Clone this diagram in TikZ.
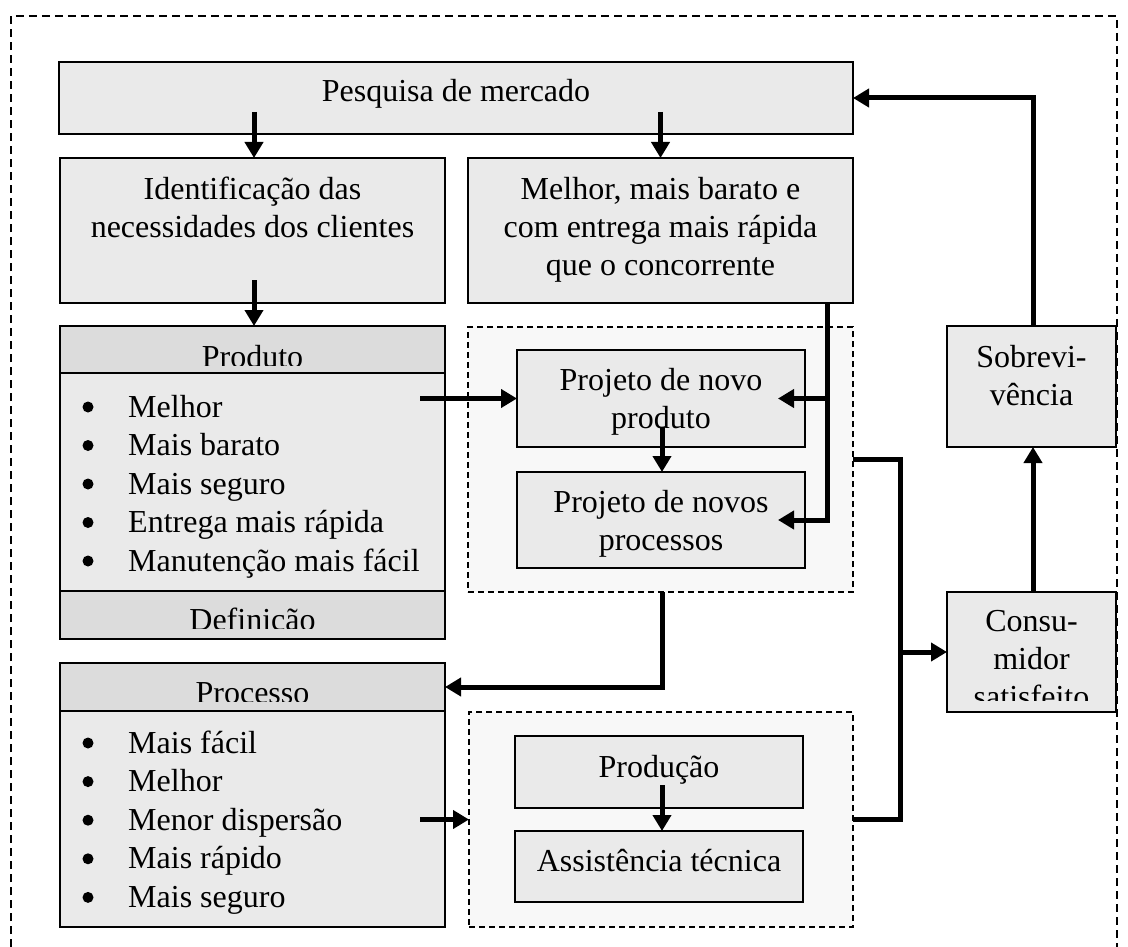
\documentclass[tikz,border=0pt]{standalone}
\usepackage{fontspec}
\setmainfont{Liberation Serif}
\usetikzlibrary{arrows.meta,calc}
\definecolor{boxgray}{HTML}{EAEAEA}
\definecolor{headgray}{HTML}{DCDCDC}
\definecolor{grpgray}{HTML}{F8F8F8}
\begin{document}
\begin{tikzpicture}[x=1pt,y=-1pt,
  box/.style={draw, line width=1.5pt, fill=boxgray, inner sep=0pt, outer sep=0pt},
  hbox/.style={box, fill=headgray},
  grp/.style={draw, dash pattern=on 6pt off 4pt, line width=1.4pt, fill=grpgray, inner sep=0pt, outer sep=0pt},
  txt/.style={font=\fontsize{32}{38}\selectfont, inner sep=0pt, align=center},
  bul/.style={circle, fill=black, inner sep=0pt, minimum size=11pt},
  link/.style={line width=5pt},
  arr/.style={line width=5pt, -{Triangle[length=16pt,width=18pt]}},
]
\useasboundingbox (0,0) rectangle (1128,947);
\fill[white] (0,0) rectangle (1128,947);
\draw[dash pattern=on 8pt off 5pt, line width=1.5pt] (11,947) -- (11,16) -- (1117,16) -- (1117,947);

% groups
\node[grp, minimum width=385pt, minimum height=265pt] (g1) at (660.5,459.5) {};
\node[grp, minimum width=384pt, minimum height=215pt] (g2) at (661,819.5) {};

% boxes
\node[box, minimum width=794pt, minimum height=72pt] (pesq) at (456,98) {};
\node[box, minimum width=385pt, minimum height=145pt] (ident) at (252.5,230.5) {};
\node[box, minimum width=385pt, minimum height=145pt] (melh) at (660.5,230.5) {};
\node[hbox, minimum width=385pt, minimum height=47pt] (phead) at (252.5,349.5) {};
\node[box, minimum width=385pt, minimum height=218pt] (plist) at (252.5,482) {};
\node[hbox, minimum width=385pt, minimum height=48pt] (pfoot) at (252.5,615) {};
\node[hbox, minimum width=385pt, minimum height=48pt] (rhead) at (252.5,687) {};
\node[box, minimum width=385pt, minimum height=216pt] (rlist) at (252.5,819) {};
\node[box, minimum width=288pt, minimum height=97pt] (prod) at (661,398.5) {};
\node[box, minimum width=288pt, minimum height=96pt] (proc) at (661,520) {};
\node[box, minimum width=288pt, minimum height=72pt] (prdc) at (659,772) {};
\node[box, minimum width=288pt, minimum height=71pt] (asst) at (659,866.5) {};
\node[box, minimum width=169pt, minimum height=121pt] (sob) at (1031.5,386.5) {};
\node[box, minimum width=169pt, minimum height=120pt] (cons) at (1031.5,652) {};

% texts
\node[txt, anchor=base] (tpesq) at (456,102) {Pesquisa de mercado};
\node[txt, anchor=north] (tident) at (252.5,177) {Identificação das\\necessidades dos clientes};
\node[txt, anchor=north] (tmelh) at (660.5,177) {Melhor, mais barato e\\com entrega mais rápida\\que o concorrente};
\node[txt, anchor=north] (tprod) at (661,368) {Projeto de novo\\produto};
\node[txt, anchor=north] (tproc) at (661,490) {Projeto de novos\\processos};
\node[txt, anchor=base] (tprdc) at (659,777) {Produção};
\node[txt, anchor=base] (tasst) at (659,871) {Assistência técnica};
\node[txt, anchor=north] (tsob) at (1031.5,345) {Sobrevi-\\vência};
\begin{scope}
  \clip (947,592) rectangle (1116,700);
  \node[txt, anchor=north] (tcons) at (1031.5,610) {Consu-\\midor\\satisfeito};
\end{scope}
\begin{scope}
  \clip (60,326) rectangle (445,365);
  \node[txt, anchor=base] (tphead) at (252.5,367) {Produto};
\end{scope}
\begin{scope}
  \clip (60,591) rectangle (445,628);
  \node[txt, anchor=base] (tpfoot) at (252.5,630) {Definição};
\end{scope}
\begin{scope}
  \clip (60,663) rectangle (445,701);
  \node[txt, anchor=base] (trhead) at (252.5,703) {Processo};
\end{scope}
\foreach \t [count=\i from 0] in {Melhor,Mais barato,Mais seguro,Entrega mais rápida,Manutenção mais fácil}{
  \node[bul] (pb\i) at (88,{407+38.5*\i}) {};
  \node[txt, anchor=base west] (pi\i) at (128,{417+38.5*\i}) {\t};
}
\foreach \t [count=\i from 0] in {Mais fácil,Melhor,Menor dispersão,Mais rápido,Mais seguro}{
  \node[bul] (rb\i) at (88,{743+38.6*\i}) {};
  \node[txt, anchor=base west] (ri\i) at (128,{753+38.6*\i}) {\t};
}

% connectors
\draw[arr] ($(ident.north)+(1.5,-46)$) -- ($(ident.north)+(1.5,0)$);
\draw[arr] ($(melh.north)+(0,-46)$) -- (melh.north);
\draw[arr] ($(phead.north)+(1.5,-46)$) -- ($(phead.north)+(1.5,0)$);
\coordinate (vtop) at ($(melh.south east)+(-26,0)$);
\draw[arr] (vtop) |- ($(proc.east)+(-27,0)$);
\draw[arr] (vtop |- prod.east) -- ($(prod.east)+(-27,0)$);
\draw[arr] ($(plist.east |- prod.west)+(-25,0)$) -- (prod.west);
\draw[arr] ($(proc.north)+(1,-45)$) -- ($(proc.north)+(1,0)$);
\draw[arr] ($(g1.south)+(1.5,0)$) |- (rhead.east);
\coordinate (busT) at ($(g1.east)+(47,0)$);
\coordinate (busB) at (busT |- g2.east);
\draw[link] (g1.east) -- (busT) -- (busB) -- (g2.east);
\draw[arr] (busT |- cons.west) -- (cons.west);
\draw[arr] ($(cons.north)+(1.5,0)$) -- ($(sob.south)+(1.5,0)$);
\draw[arr] ($(sob.north)+(1.5,0)$) |- (pesq.east);
\draw[arr] ($(rlist.east |- g2.west)+(-25,0)$) -- (g2.west);
\draw[arr] ($(asst.north)+(3,-46)$) -- ($(asst.north)+(3,0)$);
\end{tikzpicture}
\end{document}
